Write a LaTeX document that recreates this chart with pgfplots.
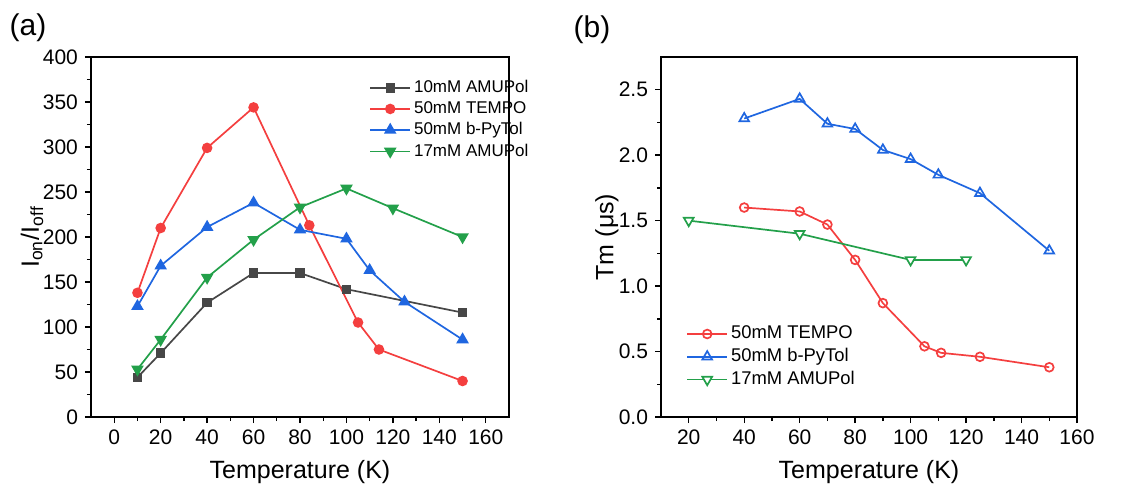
\documentclass[border=0pt]{standalone}
\usepackage{fontspec}
\setmainfont{Liberation Sans}
\usepackage{pgfplots}
\pgfplotsset{compat=1.18}

\definecolor{cgray}{HTML}{474747}
\definecolor{cred}{HTML}{F43F3F}
\definecolor{cblue}{HTML}{1F66E0}
\definecolor{cgreen}{HTML}{23A04A}

% downward triangles
\pgfdeclareplotmark{dtri*}{%
  \pgfpathmoveto{\pgfqpointpolar{-90}{\pgfplotmarksize}}%
  \pgfpathlineto{\pgfqpointpolar{30}{\pgfplotmarksize}}%
  \pgfpathlineto{\pgfqpointpolar{150}{\pgfplotmarksize}}%
  \pgfpathclose\pgfusepathqfillstroke}
\pgfdeclareplotmark{dtri}{%
  \pgfpathmoveto{\pgfqpointpolar{-90}{\pgfplotmarksize}}%
  \pgfpathlineto{\pgfqpointpolar{30}{\pgfplotmarksize}}%
  \pgfpathlineto{\pgfqpointpolar{150}{\pgfplotmarksize}}%
  \pgfpathclose\pgfusepathqfillstroke}

\pgfplotsset{
  panel/.style={
    scale only axis,
    height=180pt,
    axis line style={line width=0.8pt},
    tick align=outside,
    xtick pos=bottom, ytick pos=left,
    major tick length=3pt, minor tick length=2pt,
    tick style={line width=0.7pt, black},
    ticklabel style={font=\fontsize{10.5}{12}\selectfont},
    /pgf/number format/assume math mode=true,
    every axis x label/.style={at={(axis description cs:0.5,-0.153)}, anchor=center,
      font=\fontsize{12.5}{14}\selectfont},
    legend style={draw=none, fill=none,
      inner sep=0pt, nodes={inner sep=1.5pt}},
    legend cell align=left,
    legend image code/.code={
      \draw[#1, mark=none, line width=0.85pt] (0pt,0pt) -- (20pt,0pt);
      \draw[#1, only marks, line width=0.85pt] plot coordinates {(10pt,0pt)};},
    every axis plot/.append style={line width=0.85pt},
  }
}

\begin{document}
\begin{tikzpicture}
\useasboundingbox (0,0) rectangle (566.5pt,-242.5pt);

\begin{axis}[panel,
  at={(45.5pt,-208.5pt)}, anchor=south west,
  width=209pt,
  xmin=-10, xmax=170, ymin=0, ymax=400,
  xtick={0,20,...,160}, ytick={0,50,...,400},
  minor x tick num=1, minor y tick num=1,
  xlabel={Temperature (K)},
  ylabel={I$_{\mathrm{on}}$/I$_{\mathrm{off}}$},
  every axis y label/.style={at={(axis description cs:-0.141,0.5)}, rotate=90, anchor=center,
    font=\fontsize{12.5}{14}\selectfont},
  legend style={at={(0.665,0.945)}, anchor=north west, font=\fontsize{8.5}{10}\selectfont},
]
\addplot[cgray, mark=square*, mark size=1.9pt] coordinates {
  (10,44) (20,71) (40,127) (60,160) (80,160) (100,142) (150,116)};
\addlegendentry{10mM AMUPol}
\addplot[cred, mark=*, mark size=2.2pt] coordinates {
  (10,138) (20,210) (40,299) (60,344) (84,213) (105,105) (114,75) (150,40)};
\addlegendentry{50mM TEMPO}
\addplot[cblue, mark=triangle*, mark size=2.8pt] coordinates {
  (10,123) (20,168) (40,211) (60,238) (80,208) (100,198) (110,163) (125,128) (150,86)};
\addlegendentry{50mM b-PyTol}
\addplot[cgreen, mark=dtri*, mark size=2.8pt] coordinates {
  (10,53) (20,86) (40,155) (60,197) (80,233) (100,254) (120,232) (150,200)};
\addlegendentry{17mM AMUPol}
\end{axis}

\begin{axis}[panel,
  at={(330.5pt,-208.5pt)}, anchor=south west,
  width=208pt,
  xmin=10, xmax=160, ymin=0, ymax=2.75,
  xtick={20,40,...,160}, ytick={0,0.5,...,2.5},
  yticklabel style={/pgf/number format/.cd, fixed, fixed zerofill, precision=1},
  minor x tick num=1, minor y tick num=1,
  xlabel={Temperature (K)},
  ylabel={Tm (μs)},
  every axis y label/.style={at={(axis description cs:-0.13,0.5)}, rotate=90, anchor=center,
    font=\fontsize{12.5}{14}\selectfont},
  legend style={at={(0.06,0.262)}, anchor=north west, font=\fontsize{9.2}{11}\selectfont,
    row sep=0.3pt},
]
\addplot[cred, mark=o, mark size=2.2pt, mark options={solid, fill=white}] coordinates {
  (40,1.60) (60,1.57) (70,1.47) (80,1.20) (90,0.87) (105,0.54) (111,0.49) (125,0.46) (150,0.38)};
\addlegendentry{50mM TEMPO}
\addplot[cblue, mark=triangle, mark size=2.8pt, mark options={fill=white}] coordinates {
  (40,2.28) (60,2.43) (70,2.24) (80,2.20) (90,2.04) (100,1.97) (110,1.85) (125,1.71) (150,1.27)};
\addlegendentry{50mM b-PyTol}
\addplot[cgreen, mark=dtri, mark size=2.8pt, mark options={fill=white}] coordinates {
  (20,1.50) (60,1.40) (100,1.20) (120,1.20)};
\addlegendentry{17mM AMUPol}
\end{axis}

\node[font=\fontsize{15}{17}\selectfont] at (14pt,-14pt) {(a)};
\node[font=\fontsize{15}{17}\selectfont] at (296pt,-15pt) {(b)};
\end{tikzpicture}
\end{document}
